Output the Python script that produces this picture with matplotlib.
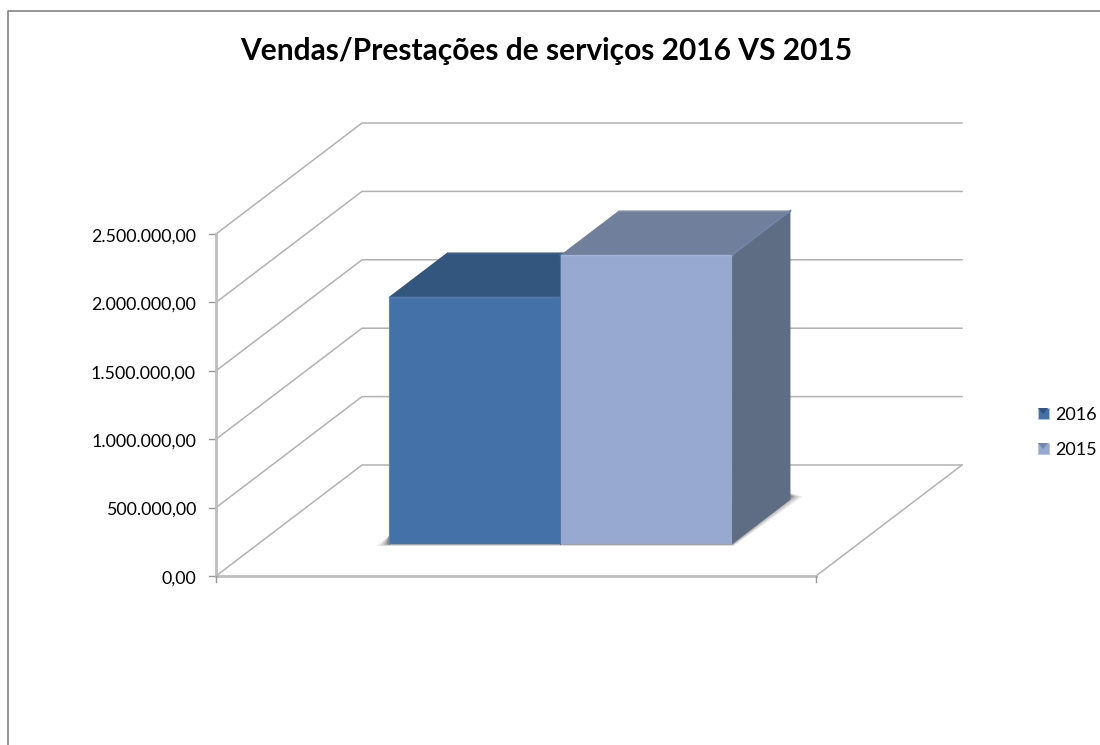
import matplotlib
matplotlib.use("Agg")
import matplotlib.pyplot as plt
from matplotlib.patches import Polygon, Rectangle

plt.rcParams["font.family"] = ["Lato", "DejaVu Sans"]

# data
years = ["2016", "2015"]
sales = [1806000, 2113000]
ticks = [0, 500000, 1000000, 1500000, 2000000, 2500000]
tick_labels = ["0,00", "500.000,00", "1.000.000,00", "1.500.000,00", "2.000.000,00", "2.500.000,00"]
title = "Vendas/Prestações de serviços 2016 VS 2015"

front_colors = ["#4471A8", "#97A9D0"]
top_colors = ["#33567F", "#6F7F9C"]
side_color = "#5E6C84"
grid_color = "#B2B2B2"
axis_color = "#BEBEBE"

# 3d box of the chart in pixels
X0, Y0 = 216, 576
WIDTH = 600
PX_PER_UNIT = 342 / 2500000
DX, DY = 146, -111


def proj(x, v, d):
    # x 0-1 along the category axis, v value, d 0-1 depth
    return (X0 + x * WIDTH + d * DX, Y0 - v * PX_PER_UNIT + d * DY)


fig = plt.figure(figsize=(11, 7.45), dpi=100)
ax = fig.add_axes([0, 0, 1, 1])
ax.set_xlim(0, 1100)
ax.set_ylim(745, 0)
ax.axis("off")

# outer frame, only left and top are visible
ax.plot([8, 8, 1100], [745, 10.5, 10.5], color="#8C8C8C", lw=1.3)

ax.text(546, 60, title, ha="center", va="baseline", fontsize=21.5, fontweight="bold", color="black")

# grid
for i, t in enumerate(ticks):
    ax.plot(*zip(proj(0, t, 0), proj(0, t, 1), proj(1, t, 1)), color=grid_color, lw=1.1, zorder=1)
    x, y = proj(0, t, 0)
    ax.plot([x - 7, x], [y, y], color="#999999", lw=1, zorder=1)
    ax.text(196, y + 2.5, tick_labels[i], ha="right", va="center", fontsize=12.8, color="black")

ax.plot(*zip(proj(1, 0, 0), proj(1, 0, 1)), color=grid_color, lw=1.1, zorder=1)
ax.plot(*zip(proj(0, 0, 0), proj(0, 2500000, 0)), color=axis_color, lw=2, zorder=2)
ax.plot(*zip(proj(0, 0, 0), proj(1, 0, 0)), color=axis_color, lw=2, zorder=2)
for x_end in [0, 1]:
    x, y = proj(x_end, 0, 0)
    ax.plot([x, x], [y, y + 6], color="#999999", lw=1, zorder=2)

# bars
bar_w = 0.286
bar_start = 0.218
d_front, d_back = 0.288, 0.688

# soft shadow under the bars
x_left, x_right = bar_start, bar_start + bar_w * len(sales)
for grow, alpha in [(5, 0.12), (3.5, 0.2), (2, 0.28), (1, 0.35)]:
    a = proj(x_left, 0, d_front)
    b = proj(x_right, 0, d_front)
    c = proj(x_right, 0, d_back)
    pts = [(a[0] - grow * 2.4, a[1] + grow * 0.4), (b[0] + grow * 0.3, b[1] + grow * 0.4),
           (c[0] + grow * 2.4, c[1] - 3), (c[0] - 5, c[1] - 8), (a[0], a[1] - 8)]
    ax.add_patch(Polygon(pts, fc="#555555", ec="none", alpha=alpha, zorder=3))

for i, v in enumerate(sales):
    x1 = bar_start + i * bar_w
    x2 = x1 + bar_w
    z = 4 + i
    top = [proj(x1, v, d_front), proj(x2, v, d_front), proj(x2, v, d_back), proj(x1, v, d_back)]
    side = [proj(x2, 0, d_front), proj(x2, v, d_front), proj(x2, v, d_back), proj(x2, 0, d_back)]
    front = [proj(x1, 0, d_front), proj(x2, 0, d_front), proj(x2, v, d_front), proj(x1, v, d_front)]
    ax.add_patch(Polygon(side, fc=side_color if i == 1 else top_colors[i], ec="none", zorder=z))
    ax.add_patch(Polygon(top, fc=top_colors[i], ec="none", zorder=z))
    ax.add_patch(Polygon(front, fc=front_colors[i], ec="none", zorder=z))
    # lighter bevel along the top edges
    ax.plot(*zip(front[3], front[2]), color="#A3B4D8" if i == 1 else "#4E7BB2", lw=1, zorder=z)
    ax.plot(*zip(top[3], top[2]), color="#8090AC" if i == 1 else "#3D6190", lw=1, zorder=z)
    ax.plot(*zip(top[1], top[2]), color="#7485A8" if i == 1 else "#3D6190", lw=1.2, zorder=z)
    ax.plot(*zip(front[0], front[3]), color="#5E83B5" if i == 0 else "#557AA8", lw=0.8, zorder=z)

# legend
legend_y = [413, 448]
for name, y, fc, tc in zip(years, legend_y, front_colors, ["#2F5482", "#7088AE"]):
    ax.add_patch(Rectangle((1037.5, y - 5.5), 11, 11, fc=fc, ec="#B9C2D4", lw=0.6, zorder=3))
    ax.add_patch(Polygon([(1038, y - 5), (1048, y - 5), (1043, y + 1)], fc=tc, ec="none", zorder=4))
    ax.text(1055, y + 2, name, ha="left", va="center", fontsize=13, color="black")

fig.savefig("out.png", dpi=100)
